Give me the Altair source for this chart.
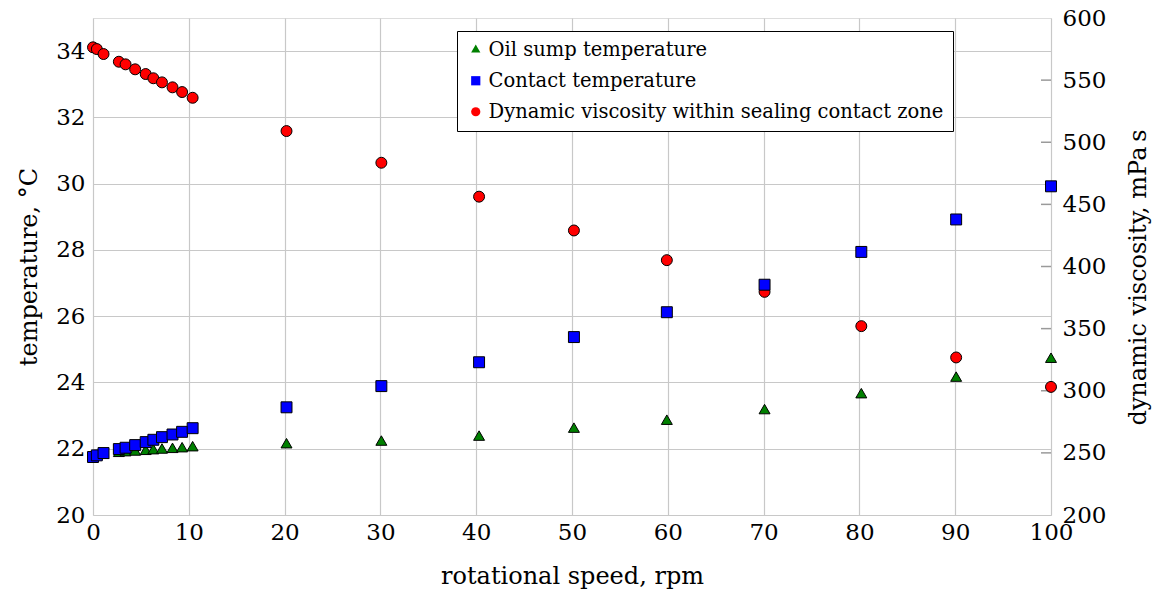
import altair as alt
import pandas as pd

# Rotational speed (rpm) of each measurement
speed = [0.0, 0.4, 1.1, 2.7, 3.4, 4.4, 5.5, 6.3, 7.2, 8.3, 9.3, 10.4,
         20.2, 30.1, 40.3, 50.2, 59.9, 70.1, 80.2, 90.1, 100.0]

# Oil sump temperature, °C
oil_sump = [21.75, 21.77, 21.80, 21.86, 21.88, 21.90, 21.92, 21.94, 21.96, 21.98, 22.00, 22.03,
            22.12, 22.20, 22.35, 22.59, 22.83, 23.15, 23.63, 24.13, 24.70]

# Contact temperature, °C
contact = [21.75, 21.80, 21.87, 21.99, 22.03, 22.11, 22.20, 22.27, 22.35, 22.43, 22.51, 22.62,
           23.25, 23.89, 24.61, 25.37, 26.12, 26.95, 27.94, 28.92, 29.92]

# Dynamic viscosity within the sealing contact zone, mPa s
viscosity = [576.4, 575.0, 571.0, 564.8, 562.7, 558.7, 554.9, 551.5, 548.2, 544.2, 540.4, 535.8,
             509.0, 483.5, 456.2, 429.0, 405.1, 379.6, 352.0, 326.8, 303.1]

series_names = ["Oil sump temperature", "Contact temperature",
                "Dynamic viscosity within sealing contact zone"]
series_colors = ["#008000", "#0000ff", "#ff0000"]
# equilateral triangle (apex up), square, circle
series_shapes = ["M0,-1.15L1,0.58L-1,0.58Z", "square", "circle"]

x_ticks = list(range(0, 101, 10))
temp_ticks = list(range(20, 35, 2))
visc_ticks = list(range(200, 601, 50))
visc_inner_ticks = list(range(250, 551, 50))

n = len(speed)
temp_df = pd.DataFrame({
    "speed": speed + speed,
    "value": oil_sump + contact,
    "series": [series_names[0]] * n + [series_names[1]] * n,
})
visc_df = pd.DataFrame({"speed": speed, "value": viscosity, "series": [series_names[2]] * n})
tick_df = pd.DataFrame({"value": visc_inner_ticks})

FONT = "DejaVu Serif"
FS = 23
TFS = 24
W, H = 958, 497
GRID = "#c8c8c8"

text_style = dict(labelFont=FONT, labelFontSize=FS, titleFont=FONT, titleFontSize=TFS,
                  titleFontWeight="normal", labelColor="black", titleColor="black",
                  labelFlush=False, ticks=False, domain=False)

legend = alt.Legend(
    title=None, orient="none", legendX=364, legendY=13,
    labelFont=FONT, labelFontSize=19.5, labelColor="black", labelLimit=700, labelOffset=3,
    symbolSize=85, symbolStrokeColor="black", symbolStrokeWidth=1, symbolOpacity=1,
    strokeColor="black", fillColor="white", padding=9, rowPadding=10, cornerRadius=0,
)
color = alt.Color("series:N", scale=alt.Scale(domain=series_names, range=series_colors), legend=legend)
shape = alt.Shape("series:N", scale=alt.Scale(domain=series_names, range=series_shapes), legend=legend)

x_enc = alt.X(
    "speed:Q",
    scale=alt.Scale(domain=[0, 100], nice=False, zero=False),
    axis=alt.Axis(values=x_ticks, title="rotational speed, rpm", grid=True, gridColor=GRID,
                  gridWidth=1.2, labelPadding=6, titlePadding=20, **text_style),
)

left_scale = alt.Scale(domain=[20, 35], nice=False, zero=False)
right_scale = alt.Scale(domain=[200, 600], nice=False, zero=False)

right_axis = alt.Axis(orient="right", values=visc_ticks, title="dynamic viscosity, mPa\u2009s",
                      titleAngle=270, titleBaseline="middle", titleAlign="center",
                      titleX=87, titleY=259,
                      grid=False, labelPadding=11, **text_style)

mark_style = dict(filled=True, stroke="black", strokeWidth=1, size=120, opacity=1)

visc_points = alt.Chart(visc_df).mark_point(**mark_style).encode(
    x=x_enc,
    y=alt.Y("value:Q", scale=right_scale, axis=right_axis),
    color=color, shape=shape,
)

# short inward ticks on the right-hand (viscosity) axis
visc_tick_marks = alt.Chart(tick_df).mark_rule(color="#9a9a9a", strokeWidth=1.5).encode(
    y=alt.Y("value:Q", scale=right_scale, axis=right_axis),
    x=alt.value(W - 10), x2=alt.value(W),
)

temp_points = alt.Chart(temp_df).mark_point(**mark_style).encode(
    x=x_enc,
    y=alt.Y("value:Q", scale=left_scale,
            axis=alt.Axis(orient="left", values=temp_ticks, title="temperature, \u00b0C",
                          grid=True, gridColor=GRID, gridWidth=1.2,
                          labelPadding=8, titlePadding=14, **text_style)),
    color=color, shape=shape,
)

chart = alt.layer(
    alt.layer(visc_tick_marks, visc_points),
    temp_points,
).resolve_scale(
    y="independent"
).properties(
    width=W, height=H,
    autosize=alt.AutoSizeParams(type="none"),
    padding={"left": 93, "top": 18, "right": 1158 - 93 - W, "bottom": 591 - 18 - H},
).configure_view(
    stroke="black", strokeWidth=1.2
).configure(background="white")

chart.save("out.html", embed_options={"renderer": "svg", "actions": False})
